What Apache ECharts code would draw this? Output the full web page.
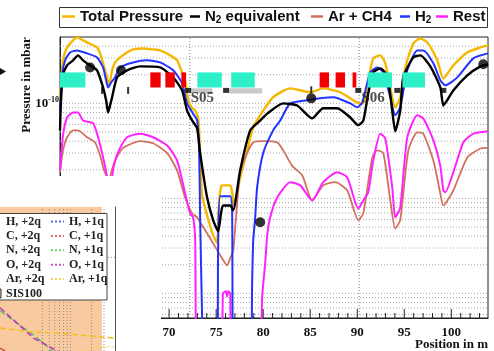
<!DOCTYPE html>
<html>
<head>
<meta charset="utf-8">
<script src="https://cdn.jsdelivr.net/npm/echarts@6/dist/echarts.min.js"></script>
<style>
  html, body { margin: 0; padding: 0; background: #fff; }
  #chart { width: 494px; height: 351px; }
</style>
</head>
<body>
<div id="chart"></div>
<script>
// Residual gas pressure along the beam line: position in m, pressure in mbar.
const totalPressure = [
  [58.40,1.08e-10],[58.72,2.84e-10],[59.15,3.88e-10],[59.79,4.61e-10],[60.21,4.95e-10],[60.85,4.61e-10],
  [61.28,4.39e-10],[62.34,3.88e-10],[62.66,3.36e-10],[62.98,2.64e-10],[63.40,1.88e-10],[63.62,1.55e-10],
  [63.94,2.23e-10],[64.26,2.70e-10],[64.79,3.05e-10],[65.53,3.44e-10],[66.17,3.70e-10],[67.23,3.79e-10],
  [68.30,3.70e-10],[69.04,3.61e-10],[70.11,3.20e-10],[70.85,2.84e-10],[71.17,2.39e-10],[71.70,1.75e-10],
  [72.02,1.08e-10],[72.45,8.9e-11],[72.77,8.4e-11],[73.09,6.95e-11],[73.19,5.2e-11],[73.30,2.5e-11],
  [73.51,1.08e-11],[74.04,6.6e-12],[74.68,4.1e-12],[75.11,3.4e-12],[75.32,9.5e-12],[75.53,1.34e-11],
  [75.64,1.37e-11],[76.49,1.37e-11],[76.70,1.16e-11],[76.91,8.4e-12],[77.55,1.66e-11],[78.30,3.2e-11],
  [78.94,5.6e-11],[80.00,8.4e-11],[81.06,1.16e-10],[82.87,1.44e-10],[85.00,1.31e-10],[86.38,1.44e-10],
  [88.19,1.31e-10],[90.00,1.02e-10],[90.64,1.0e-10],[91.17,1.75e-10],[91.70,2.98e-10],[92.45,3.20e-10],
  [92.98,2.64e-10],[93.51,1.47e-10],[94.04,9.1e-11],[94.57,1.16e-10],[95.11,2.39e-10],[95.96,4.28e-10],
  [96.70,4.83e-10],[97.45,4.39e-10],[98.51,2.84e-10],[99.15,1.83e-10],[100.21,2.51e-10],[101.70,3.44e-10],
  [103.09,3.88e-10],[103.90,4.08e-10]
];
const n2Equivalent = [
  [58.40,5.2e-11],[58.51,1.08e-10],[58.72,1.97e-10],[59.15,2.51e-10],[59.79,2.84e-10],[60.32,3.20e-10],
  [60.85,2.84e-10],[61.60,2.51e-10],[62.34,2.23e-10],[62.98,1.47e-10],[63.30,1.08e-10],[63.51,8.0e-11],
  [63.72,9.5e-11],[63.94,1.16e-10],[64.47,1.88e-10],[65.53,2.23e-10],[66.91,2.45e-10],[69.04,2.39e-10],
  [70.43,1.88e-10],[71.38,1.37e-10],[71.91,8.4e-11],[72.45,6.6e-11],[72.98,5.45e-11],[73.30,3.0e-11],
  [74.04,1.02e-11],[74.68,5.9e-12],[75.21,4.5e-12],[75.53,7.1e-12],[75.74,8.4e-12],[76.49,8.4e-12],
  [76.81,7.5e-12],[77.55,1.97e-11],[78.62,5.2e-11],[79.68,6.6e-11],[80.43,7.8e-11],[82.13,1.0e-10],
  [83.62,9.5e-11],[85.21,6.95e-11],[86.38,8.9e-11],[87.87,8.9e-11],[89.26,7.1e-11],[90.11,5.9e-11],
  [90.64,6.6e-11],[91.17,1.27e-10],[91.70,2.12e-10],[92.45,2.33e-10],[93.19,1.97e-10],[93.72,8.4e-11],
  [94.04,5.1e-11],[94.57,8.4e-11],[94.89,1.88e-10],[95.96,3.05e-10],[96.70,3.2e-10],[97.77,2.45e-10],
  [98.83,1.47e-10],[99.15,9.5e-11],[99.57,1.08e-10],[100.21,1.37e-10],[101.70,1.97e-10],[103.09,2.45e-10],
  [103.90,2.58e-10]
];
const arCh4 = [
  [58.40,1.88e-11],[58.72,3.2e-11],[59.15,4.4e-11],[59.79,5.2e-11],[60.32,5.2e-11],[61.28,4.4e-11],
  [62.13,3.88e-11],[62.66,2.84e-11],[63.09,1.97e-11],[63.40,1.66e-11],[63.60,6.0e-12],[63.72,1.66e-11],
  [64.26,2.5e-11],[65.11,3.4e-11],[66.91,4.0e-11],[68.30,3.8e-11],[69.79,3.0e-11],[70.85,1.97e-11],
  [71.70,1.02e-11],[72.45,6.95e-12],[72.98,6.3e-12],[73.30,5.6e-12],[74.36,3.8e-12],[75.11,2.84e-12],
  [75.64,2.33e-12],[76.17,1.97e-12],[76.49,2.33e-12],[76.81,2.84e-12],[77.13,6.6e-12],[77.55,1.88e-11],
  [78.30,3.0e-11],[78.94,3.88e-11],[80.00,4.0e-11],[81.49,3.88e-11],[82.13,3.2e-11],[83.09,2.2e-11],
  [84.15,1.75e-11],[85.21,9.5e-12],[86.38,1.37e-11],[87.66,1.48e-11],[88.94,1.21e-11],[90.11,5.9e-12],
  [90.64,6.95e-12],[91.60,2.7e-11],[92.13,3.2e-11],[92.77,3.0e-11],[93.51,9.5e-12],[94.04,4.8e-12],
  [94.57,5.9e-12],[95.43,3.2e-11],[96.38,4.95e-11],[97.02,4.8e-11],[98.09,2.5e-11],[98.83,1.13e-11],
  [99.15,8.4e-12],[100.21,1.21e-11],[101.70,2.7e-11],[103.09,3.35e-11],[103.90,3.4e-11]
];
const h2 = [
  [58.40,8.4e-11],[58.62,1.97e-10],[58.94,2.84e-10],[59.47,3.44e-10],[60.21,3.61e-10],[61.28,3.36e-10],
  [62.34,3.05e-10],[62.98,2.39e-10],[63.30,1.75e-10],[63.51,1.47e-10],[63.83,1.66e-10],[64.26,1.88e-10],
  [64.79,2.39e-10],[66.17,2.70e-10],[67.66,2.84e-10],[69.04,2.70e-10],[70.43,2.23e-10],[71.38,1.63e-10],
  [71.91,1.0e-10],[72.55,7.8e-11],[72.98,6.6e-11],[73.19,3.2e-11],[73.30,5.9e-12],[73.51,5.5e-13],
  [73.62,2e-13],[75.11,2e-13],[75.21,3e-12],[75.43,1.05e-11],[76.49,1.05e-11],[76.70,7e-12],
  [76.81,2e-13],[78.62,2e-13],[78.83,1.37e-12],[78.94,3.6e-12],[79.15,6.3e-12],[79.36,1.31e-11],
  [80.00,3.0e-11],[81.06,5.2e-11],[81.81,6.6e-11],[82.87,1.0e-10],[84.68,1.08e-10],[86.06,1.13e-10],
  [87.45,1.16e-10],[89.26,1.0e-10],[90.00,9.1e-11],[90.53,1.02e-10],[91.38,2.12e-10],[92.13,2.39e-10],
  [92.77,2.12e-10],[93.51,1.16e-10],[94.04,7.5e-11],[94.57,9.1e-11],[95.32,2.23e-10],[96.38,3.61e-10],
  [97.02,3.61e-10],[98.09,2.64e-10],[98.83,1.75e-10],[99.36,1.55e-10],[100.64,1.88e-10],[102.34,2.98e-10],
  [103.90,3.36e-10]
];
const rest = [
  [58.40,1.97e-11],[58.72,4.6e-11],[59.15,7.1e-11],[59.79,8.0e-11],[60.32,8.0e-11],[60.85,6.6e-11],
  [61.91,6.2e-11],[62.45,4.4e-11],[62.98,2.7e-11],[63.40,1.66e-11],[63.60,3e-12],[63.94,1.66e-11],
  [64.26,2.5e-11],[64.79,3.4e-11],[65.53,4.4e-11],[66.91,4.8e-11],[68.30,4.4e-11],[69.79,3.6e-11],
  [70.85,2.5e-11],[71.70,1.13e-11],[72.23,6.95e-12],[72.55,6.3e-12],[72.77,3.6e-12],[72.98,2e-13],
  [75.60,2e-13],[75.72,1.0e-12],[76.05,1.05e-12],[76.15,9.3e-13],[76.30,1.05e-12],[76.49,1.0e-12],
  [76.60,2e-13],[79.60,2e-13],[79.89,9.1e-13],[80.21,2.07e-12],[80.43,4.1e-12],[80.74,6.3e-12],
  [81.49,1.02e-11],[82.87,1.48e-11],[83.94,1.37e-11],[85.21,9.5e-12],[86.38,1.48e-11],[87.87,1.88e-11],
  [88.94,1.66e-11],[90.11,7.8e-12],[90.64,9.5e-12],[91.17,1.16e-11],[91.70,2.5e-11],[92.45,4.8e-11],
  [92.98,4.28e-11],[93.72,1.31e-11],[94.04,6.3e-12],[94.57,8.0e-12],[95.32,4.4e-11],[96.38,7.5e-11],
  [97.02,6.95e-11],[98.09,4.1e-11],[98.83,2.2e-11],[99.15,1.21e-11],[99.36,1.16e-11],[100.21,1.88e-11],
  [101.28,3.88e-11],[102.34,4.8e-11],[103.90,5.1e-11]
];

// Gauge readings and beam-line components (position in m, pressure level in mbar)
const gaugeReadings = [[61.60,2.39e-10],[64.89,2.23e-10],[79.68,5.6e-12],[85.11,1.13e-10],[103.40,2.58e-10]];
const pumpTicks = [[62.87,1.37e-10],[65.64,1.37e-10],[85.11,1.39e-10]];
const pumpBoxes = [[72.02,1.37e-10],[76.06,1.37e-10],[90.11,1.37e-10],[94.26,1.37e-10],[99.15,1.37e-10]];
const quadrupoles = [[58.40,61.10],[73.00,75.60],[76.60,79.10],[91.10,93.70],[94.80,97.20]];
const dipoles = [[68.00,69.10],[69.60,70.60],[71.30,71.80],[86.00,87.00],[87.70,88.70],[89.50,89.90]];
const chambers = [[72.20,74.60],[76.40,79.90]];
const magnetBand = [2.12e-10, 1.47e-10];
const chamberBand = [1.44e-10, 1.27e-10];
const sections = [['S05', 72.30, 1.13e-10], ['S06', 90.45, 1.13e-10]];
const sectionLines = [72.2, 90.2];
const yGridValues = [6e-13,7e-13,8e-13,9e-13,1e-12,2e-12,3e-12,4e-12,5e-12,6e-12,7e-12,8e-12,9e-12,
  1e-11,2e-11,3e-11,4e-11,5e-11,6e-11,7e-11,8e-11,9e-11,1e-10,2e-10,3e-10,4e-10];
const xRange = [58.4, 103.9];
const yRange = [5.5e-13, 5e-10];

// Small overlapping panel: charge-state curves against energy, SIS100 range shaded
const sisRange = [[0.1, 1], [2.8, 1]];
const insetXGrid = [0.4, 0.5, 0.6, 0.7, 0.8, 0.9, 1, 2, 3];
const insetYGrid = [0.65];
const hTwo  = [[0.1,-0.10],[0.3,-0.20],[4.3,-0.30]];
const cTwo  = [[0.1,0.02],[0.3,-0.10],[4.3,-0.30]];
const nTwo  = [[0.1,0.28],[0.3,0.11],[0.45,0.04],[0.7,-0.05],[4.3,-0.30]];
const oTwo  = [[0.1,0.30],[0.3,0.09],[0.65,0.0],[1.0,-0.06],[4.3,-0.30]];
const arTwo = [[0.1,0.16],[0.3,0.132],[0.65,0.125],[1.4,0.11],[4.3,0.09]];
const hOne  = [[0.1,-0.20],[4.3,-0.40]];
const cOne  = [[0.1,-0.15],[4.3,-0.40]];
const nOne  = [[0.1,-0.12],[4.3,-0.40]];
const oOne  = [[0.1,-0.10],[4.3,-0.40]];
const arOne = [[0.1,-0.20],[0.5,-0.08],[1.5,0.0],[2.4,0.028],[4.3,0.03]];

const SERIF = '"Liberation Serif", "Times New Roman", serif';
const SANS = '"Liberation Sans", Arial, sans-serif';

const chart = echarts.init(document.getElementById('chart'), null, { renderer: 'canvas' });

function bandSeries(name, ranges, band, color) {
  return {
    name, type: 'custom', xAxisIndex: 0, yAxisIndex: 0, z: 4, silent: true,
    data: ranges.map(r => [r[0], r[1], band[0], band[1]]),
    encode: { x: [0, 1], y: [2, 3] },
    renderItem(params, api) {
      const p0 = api.coord([api.value(0), api.value(2)]);
      const p1 = api.coord([api.value(1), api.value(3)]);
      return { type: 'rect', shape: { x: p0[0], y: p0[1], width: p1[0] - p0[0], height: p1[1] - p0[1] },
               style: { fill: color } };
    }
  };
}

// dotted reference lines spanning the plotting area, horizontal ('h') or vertical ('v')
function refLines(name, values, dir, axisIdx, span, color, z) {
  return {
    name, type: 'custom', xAxisIndex: axisIdx, yAxisIndex: axisIdx, z, silent: true, clip: true,
    data: values.map(v => (dir === 'h' ? [span[0], v] : [v, span[0]])),
    encode: { x: 0, y: 1 },
    renderItem(params, api) {
      const a = api.coord([api.value(0), api.value(1)]);
      const b = dir === 'h' ? api.coord([span[1], api.value(1)]) : api.coord([api.value(0), span[1]]);
      return { type: 'line', shape: { x1: a[0], y1: a[1], x2: b[0], y2: b[1] },
               style: { stroke: color, lineWidth: 1, lineDash: [1, 2] } };
    }
  };
}

function mainLegend(name, left, width) {
  return {
    data: [name], left, top: 9, padding: 0, icon: 'rect', itemWidth: width, itemHeight: 2.5,
    selectedMode: false,
    formatter: n => ({ 'N2 equivalent': '{t|N}{d|2}{t| equivalent}', 'H2': '{t|H}{d|2}' }[n] || '{t|' + n + '}'),
    textStyle: {
      rich: {
        t: { fontFamily: SANS, fontWeight: 'bold', fontSize: 15, color: '#111', lineHeight: 17 },
        d: { fontFamily: SANS, fontWeight: 'bold', fontSize: 10, color: '#111', lineHeight: 10, verticalAlign: 'bottom' }
      }
    }
  };
}

function insetLegend(names, left, width) {
  return {
    data: names, left, top: 215, orient: 'vertical', padding: 0, itemGap: 1.4,
    itemWidth: width, itemHeight: 9, z: 63, selectedMode: false,
    itemStyle: { opacity: 0 },
    textStyle: { fontFamily: SERIF, fontWeight: 'bold', fontSize: 12, color: '#222', lineHeight: 13 }
  };
}

function insetLine(name, data, color, type) {
  return {
    name, type: 'line', xAxisIndex: 1, yAxisIndex: 1, data, symbol: 'none', z: 60, silent: true,
    lineStyle: { color, width: type === 'dotted' ? 1.2 : 1.5, type }, itemStyle: { color }
  };
}

function pressureLine(name, data, color, width) {
  return {
    name, type: 'line', data, symbol: 'none', z: 2, smooth: 0.2,
    lineStyle: { color, width }, itemStyle: { color }
  };
}

const xTicks = [];
for (let m = Math.ceil(xRange[0]); m <= Math.floor(xRange[1]); m++) xTicks.push([m, yRange[0]]);

const option = {
  animation: false,
  grid: [
    { left: 60, right: 6, top: 37, bottom: 33, show: true, borderColor: '#222', borderWidth: 1, backgroundColor: 'transparent' },
    { left: -48, top: 207, width: 163, bottom: 0 }
  ],
  xAxis: [
    {
      type: 'value', gridIndex: 0, min: xRange[0], max: xRange[1], splitNumber: 9,
      axisLine: { lineStyle: { color: '#222' } }, axisTick: { show: false }, splitLine: { show: false },
      axisLabel: {
        margin: 8, showMinLabel: false, showMaxLabel: false,
        fontFamily: SERIF, fontWeight: 'bold', fontSize: 13, color: '#111',
        formatter: v => (Math.abs(v % 5) < 1e-9 ? String(v) : '')
      }
    },
    {
      type: 'log', gridIndex: 1, min: 0.1, max: 4.3, position: 'top', z: 61,
      axisLine: { lineStyle: { color: '#555' } }, axisTick: { show: false }, axisLabel: { show: false }, splitLine: { show: false }
    }
  ],
  yAxis: [
    {
      type: 'log', gridIndex: 0, min: yRange[0], max: yRange[1], logBase: 10,
      axisLine: { show: true, lineStyle: { color: '#222' } }, axisTick: { show: false }, splitLine: { show: false },
      axisLabel: {
        margin: 1,
        formatter: v => (Math.abs(Math.log10(v) + 10) < 1e-6 ? '{b|10}{s|-10}' : ''),
        rich: {
          b: { fontFamily: SERIF, fontWeight: 'bold', fontSize: 13, color: '#111', lineHeight: 14 },
          s: { fontFamily: SERIF, fontWeight: 'bold', fontSize: 8, color: '#111', lineHeight: 8, verticalAlign: 'top' }
        }
      }
    },
    {
      type: 'value', gridIndex: 1, min: 0, max: 1, position: 'right', z: 61,
      axisLine: { show: true, lineStyle: { color: '#555' } }, axisTick: { show: false }, axisLabel: { show: false }, splitLine: { show: false }
    }
  ],
  legend: [
    mainLegend('Total Pressure', 62, 13),
    mainLegend('N2 equivalent', 190, 10),
    mainLegend('Ar + CH4', 311, 12),
    mainLegend('H2', 400, 10),
    mainLegend('Rest', 436, 12),
    insetLegend(['H, +2q', 'C, +2q', 'N, +2q', 'O, +2q', 'Ar, +2q',
      { name: 'SIS100', icon: 'rect', itemStyle: { opacity: 1, color: '#f6b37e', borderColor: '#333', borderWidth: 1 } }], -12, 12),
    insetLegend(['H, +1q', 'C, +1q', 'N, +1q', 'O, +1q', 'Ar, +1q'], 50, 13)
  ],
  graphic: [
    { type: 'rect', z: 1, silent: true, shape: { x: 59.5, y: 7.5, width: 428, height: 20 },
      style: { fill: 'none', stroke: '#333', lineWidth: 1 } },
    { type: 'polygon', z: 1, silent: true, shape: { points: [[0, 68], [6, 71.5], [0, 75]] }, style: { fill: '#111' } },
    { type: 'text', z: 1, silent: true, x: 27, y: 85, rotation: Math.PI / 2,
      style: { text: 'Pressure in mbar', font: 'bold 13px ' + SERIF, fill: '#111',
               align: 'center', verticalAlign: 'middle', textAlign: 'center', textVerticalAlign: 'middle' } },
    { type: 'text', z: 1, silent: true, x: 488, y: 345,
      style: { text: 'Position in m', font: 'bold 13px ' + SERIF, fill: '#111',
               align: 'right', verticalAlign: 'middle', textAlign: 'right', textVerticalAlign: 'middle' } },
    { type: 'rect', z: 50, silent: true, shape: { x: 0, y: 176, width: 161, height: 175 }, style: { fill: '#fff' } },
    { type: 'rect', z: 62, silent: true, shape: { x: -5, y: 213.5, width: 112, height: 86.5 },
      style: { fill: '#fff', stroke: '#444', lineWidth: 1 } }
  ],
  series: [
    refLines('y grid', yGridValues, 'h', 0, xRange, '#a8a8a8', 1),
    refLines('sections', sectionLines, 'v', 0, yRange, '#808080', 1),
    pressureLine('Total Pressure', totalPressure, '#f5b800', 2.4),
    pressureLine('Ar + CH4', arCh4, '#d0705f', 1.8),
    pressureLine('Rest', rest, '#ff22ff', 2),
    pressureLine('H2', h2, '#2233ff', 2),
    pressureLine('N2 equivalent', n2Equivalent, '#000', 2.4),
    bandSeries('quadrupoles', quadrupoles, magnetBand, '#2ef0c8'),
    bandSeries('dipoles', dipoles, magnetBand, '#f00000'),
    bandSeries('chambers', chambers, chamberBand, '#c8c8c8'),
    { name: 'pumps', type: 'scatter', data: pumpTicks, symbol: 'rect', symbolSize: [2, 7], z: 5, silent: true,
      itemStyle: { color: '#000' } },
    { name: 'pump boxes', type: 'scatter', data: pumpBoxes, symbol: 'rect', symbolSize: [6, 5], z: 5, silent: true,
      itemStyle: { color: '#000' } },
    { name: 'gauges', type: 'scatter', data: gaugeReadings, symbol: 'circle', symbolSize: 10, z: 5, silent: true,
      itemStyle: { color: '#000' } },
    { name: 'section names', type: 'scatter', data: sections.map(s => [s[1], s[2], s[0]]), symbolSize: 1, z: 6, silent: true,
      encode: { x: 0, y: 1 }, itemStyle: { color: 'transparent' },
      label: { show: true, position: 'inside', align: 'left', verticalAlign: 'middle', formatter: p => p.value[2],
               fontFamily: SERIF, fontWeight: 'bold', fontSize: 15, color: '#222' } },
    { name: 'ticks', type: 'custom', data: xTicks, z: 5, silent: true, encode: { x: 0, y: 1 },
      renderItem(params, api) {
        const m = api.value(0);
        const p = api.coord([m, api.value(1)]);
        const len = m % 5 === 0 ? 9 : 5;
        return { type: 'line', shape: { x1: p[0], y1: p[1], x2: p[0], y2: p[1] - len },
                 style: { stroke: '#222', lineWidth: 1 } };
      } },

    // overlapping panel
    { name: 'SIS100', type: 'line', xAxisIndex: 1, yAxisIndex: 1, data: sisRange, symbol: 'none', z: 60, silent: true,
      lineStyle: { width: 0 }, itemStyle: { color: '#f6b37e' }, areaStyle: { color: '#f9c9a0', opacity: 1 } },
    refLines('energy grid', insetXGrid, 'v', 1, [0, 1], '#8a8a8a', 60),
    refLines('rate grid', insetYGrid, 'h', 1, [0.1, 4.3], '#8a8a8a', 60),
    insetLine('H, +2q', hTwo, '#3050e0', 'dashed'),
    insetLine('C, +2q', cTwo, '#d05040', 'dashed'),
    insetLine('N, +2q', nTwo, '#55c055', 'dashed'),
    insetLine('O, +2q', oTwo, '#c030c0', 'dashed'),
    insetLine('Ar, +2q', arTwo, '#f0c020', 'dashed'),
    insetLine('H, +1q', hOne, '#5070f0', 'dotted'),
    insetLine('C, +1q', cOne, '#e07060', 'dotted'),
    insetLine('N, +1q', nOne, '#70d070', 'dotted'),
    insetLine('O, +1q', oOne, '#d050d0', 'dotted'),
    insetLine('Ar, +1q', arOne, '#f5d050', 'dotted')
  ]
};

chart.setOption(option);
</script>
</body>
</html>
